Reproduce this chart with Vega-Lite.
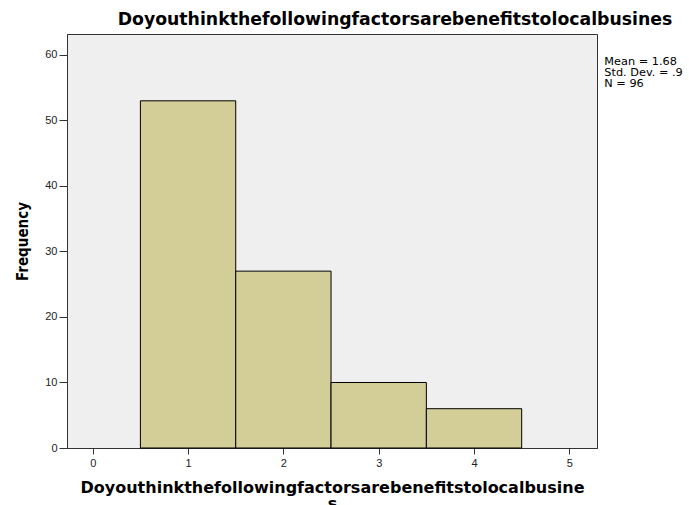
{
  "$schema": "https://vega.github.io/schema/vega-lite/v6.json",
  "autosize": "none",
  "padding": {"left": 67, "top": 34, "right": 92, "bottom": 57},
  "width": 530,
  "height": 414,
  "background": "white",
  "view": {"fill": "#efefef", "stroke": "#333333", "strokeWidth": 1},
  "config": {
    "font": "Liberation Sans",
    "view": {"fill": "#efefef", "stroke": "#333333", "strokeWidth": 1}
  },
  "title": {
    "text": "Doyouthinkthefollowingfactorsarebenefitstolocalbusines",
    "font": "DejaVu Sans",
    "fontSize": 17.3,
    "fontWeight": "bold",
    "color": "#000000",
    "anchor": "middle",
    "dx": 63,
    "offset": 6
  },
  "layer": [
    {
      "data": {
        "values": [
          {"bin_start": 0.5, "bin_end": 1.5, "count": 53},
          {"bin_start": 1.5, "bin_end": 2.5, "count": 27},
          {"bin_start": 2.5, "bin_end": 3.5, "count": 10},
          {"bin_start": 3.5, "bin_end": 4.5, "count": 6}
        ]
      },
      "mark": {"type": "rect", "fill": "#d3ce97", "stroke": "#000000", "strokeWidth": 1},
      "encoding": {
        "x": {
          "field": "bin_start",
          "type": "quantitative",
          "scale": {"domain": [-0.27, 5.29], "nice": false, "zero": false},
          "axis": {
            "values": [0, 1, 2, 3, 4, 5],
            "grid": false,
            "title": ["Doyouthinkthefollowingfactorsarebenefitstolocalbusine", "s"],
            "titleFont": "DejaVu Sans",
            "titleFontSize": 16,
            "titleFontWeight": "bold",
            "titleColor": "#000000",
            "titlePadding": 11,
            "titleLineHeight": 16,
            "labelFont": "Liberation Sans",
            "labelFontSize": 11,
            "labelColor": "#222222",
            "labelPadding": 3,
            "tickSize": 6,
            "tickColor": "#333333",
            "domainColor": "#333333"
          }
        },
        "x2": {"field": "bin_end"},
        "y": {
          "field": "count",
          "type": "quantitative",
          "scale": {"domain": [0, 63.2], "nice": false},
          "axis": {
            "values": [0, 10, 20, 30, 40, 50, 60],
            "grid": false,
            "title": "Frequency",
            "titleFont": "DejaVu Sans Condensed, Liberation Sans",
            "titleFontSize": 15,
            "titleFontWeight": "bold",
            "titleColor": "#000000",
            "titlePadding": 14,
            "labelFont": "Liberation Sans",
            "labelFontSize": 11,
            "labelColor": "#222222",
            "labelPadding": 2,
            "tickSize": 8,
            "tickColor": "#333333",
            "domainColor": "#333333"
          }
        },
        "y2": {"datum": 0}
      }
    },
    {
      "data": {
        "values": [
          {"stat": "Mean = 1.68"},
          {"stat": "Std. Dev. = .9"},
          {"stat": "N = 96"}
        ]
      },
      "mark": {"type": "point", "opacity": 0},
      "encoding": {
        "color": {
          "field": "stat",
          "type": "nominal",
          "sort": null,
          "scale": {"range": ["#000000", "#000000", "#000000"]},
          "legend": {
            "orient": "none",
            "legendX": 526,
            "legendY": 22,
            "title": null,
            "symbolSize": 0,
            "symbolOpacity": 0,
            "symbolStrokeWidth": 0,
            "labelOffset": 0,
            "labelFont": "DejaVu Sans",
            "labelFontSize": 11.3,
            "labelColor": "#000000",
            "rowPadding": -2,
            "padding": 0
          }
        }
      }
    }
  ]
}
